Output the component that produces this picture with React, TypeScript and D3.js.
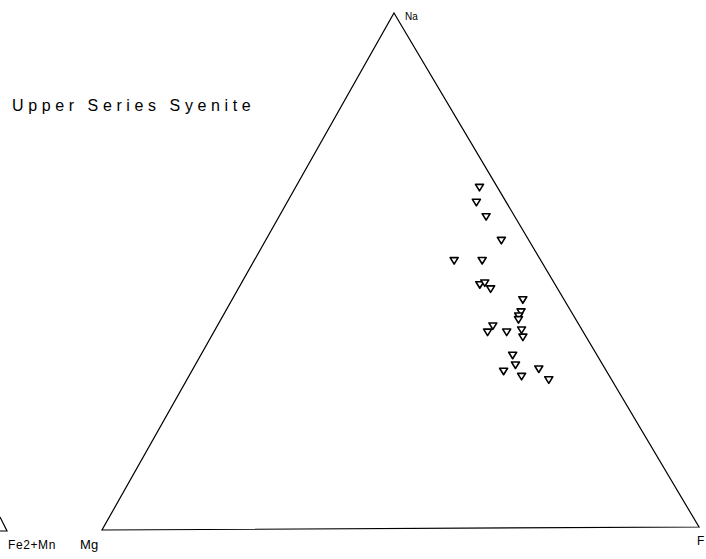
import React from "react";
import * as d3 from "d3";

// Ternary compositions (percent): Na, Mg, F — Upper Series Syenite samples
const naValues = [66.1, 63.2, 60.4, 55.8, 51.9, 51.9, 47.2, 47.6, 46.4, 44.2, 41.9, 41.1, 40.4, 39.2, 38.0, 38.0, 38.4, 37.0, 33.5, 31.6, 30.4, 29.4, 30.8, 28.7];
const mgValues = [3.0, 5.0, 4.8, 4.6, 14.5, 9.8, 12.6, 11.6, 11.2, 6.9, 8.4, 9.2, 9.6, 14.5, 16.0, 12.8, 10.1, 10.6, 14.1, 14.6, 17.2, 14.7, 11.1, 10.5];
const fValues = [30.9, 31.8, 34.8, 39.6, 33.6, 38.3, 40.2, 40.9, 42.4, 48.8, 49.7, 49.7, 50.0, 46.3, 46.0, 49.2, 51.5, 52.4, 52.4, 53.8, 52.4, 55.9, 58.1, 60.8];

const title = "Upper Series Syenite";
const apexLabels = ["Na", "Fe2+Mn", "Mg", "F"];

const W = 706;
const H = 559;

// corner positions of the ternary frame
const top = { x: 394, y: 13 };
const left = { x: 102, y: 530 };
const right = { x: 699, y: 527 };

// Na share sets height; remaining share is split between Mg (left) and F (right)
const naScale = d3.scaleLinear().domain([0, 100]).range([0, 1]);

function project(na: number, mg: number, f: number) {
  const a = naScale(na);
  const c = naScale(f);
  const b = naScale(mg);
  const s = a + b + c;
  return {
    x: (a * top.x + b * left.x + c * right.x) / s,
    y: (a * top.y + b * left.y + c * right.y) / s,
  };
}

const marker = d3.line()([
  [-4, -3],
  [4, -3],
  [0, 3.5],
]) + "Z";

export default function App() {
  const frame = d3.line()([
    [top.x, top.y],
    [right.x, right.y],
    [left.x, left.y],
  ]) + "Z";

  const pts = naValues.map((na, i) => project(na, mgValues[i], fValues[i]));

  const font = "'Liberation Sans', 'DejaVu Sans', sans-serif";

  return (
    <svg
      width={W}
      height={H}
      style={{ position: "absolute", left: 0, top: 0, background: "#fff" }}
    >
      <rect width={W} height={H} fill="#fff" />
      <path d={frame} fill="none" stroke="#000" strokeWidth={1.2} />
      {/* partial legend glyph at the left margin */}
      <path d="M0,517 L7,531 L0,531" fill="none" stroke="#000" strokeWidth={1.2} />
      {pts.map((p, i) => (
        <path
          key={i}
          d={marker}
          transform={`translate(${p.x},${p.y})`}
          fill="#fff"
          stroke="#000"
          strokeWidth={1.6}
          strokeLinejoin="round"
        />
      ))}
      <text x={12} y={111} fontFamily={font} fontSize={16} letterSpacing={4.6} fill="#000">
        {title}
      </text>
      <text x={405} y={20} fontFamily={font} fontSize={10} fill="#000">
        {apexLabels[0]}
      </text>
      <text x={8} y={549} fontFamily={font} fontSize={12} letterSpacing={0.6} fill="#000">
        {apexLabels[1]}
      </text>
      <text x={80} y={549} fontFamily={font} fontSize={13} letterSpacing={0.2} fill="#000">
        {apexLabels[2]}
      </text>
      <text x={697} y={545} fontFamily={font} fontSize={12} fill="#000">
        {apexLabels[3]}
      </text>
    </svg>
  );
}
